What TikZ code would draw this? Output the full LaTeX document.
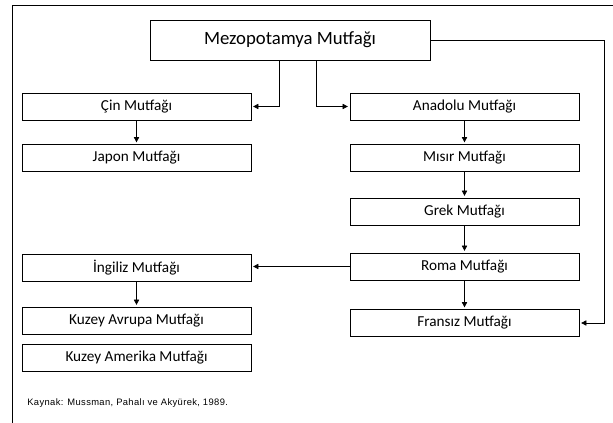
\documentclass[tikz,border=0pt]{standalone}
\usepackage{fontspec}
\setmainfont{Carlito}
\newfontfamily\srcfont[LetterSpace=4]{Liberation Sans}
\usetikzlibrary{arrows.meta,calc}

\tikzset{
  mutfak/.style={draw, minimum width=68.7mm, minimum height=8.1mm, inner sep=0pt,
    font=\fontsize{13}{15}\selectfont},
  ok/.style={->, shorten >=1.5pt},
  >={Triangle[length=4.5pt,width=4.5pt]}
}

\begin{document}
\begin{tikzpicture}[x=0.3mm, y=-0.3mm, line width=0.6pt]
  \useasboundingbox (0,0) rectangle (613,423);
  % frame
  \draw (613,5) -- (12,5) -- (12,423);
  \node [draw, minimum width=84mm, minimum height=12mm, inner sep=0pt,
    font=\fontsize{16}{18}\selectfont] (mezo) at (290,40) {Mezopotamya Mutfağı};
  % left column
  \foreach \name/\y/\text in {cin/106.5/Çin, japon/158/Japon, ingiliz/267.5/İngiliz,
    kavrupa/320.5/Kuzey Avrupa, kamerika/357.5/Kuzey Amerika}
    \node [mutfak] (\name) at (136.5,\y) {\text\ Mutfağı};
  % right column
  \foreach \name/\y/\text in {anadolu/106.5/Anadolu, misir/158/Mısır, grek/211.5/Grek,
    roma/266.5/Roma, fransiz/323/Fransız}
    \node [mutfak] (\name) at (464.5,\y) {\text\ Mutfağı};
  % edges:
  \draw [ok] ($(mezo.south)+(-11,0)$) |- (cin.east);
  \draw [ok] ($(mezo.south)+(26,0)$) |- (anadolu.west);
  \draw [ok] (mezo.east) -- ++(174,0) |- (fransiz.east);
  \draw [ok] (roma.west) -- (roma.west -| ingiliz.east);
  \foreach \a/\b in {cin/japon, ingiliz/kavrupa, anadolu/misir, misir/grek,
    grek/roma, roma/fransiz}
    \draw [ok] (\a) -- (\b);
  \node [anchor=west, inner sep=0pt, font=\srcfont\fontsize{8}{9}\selectfont] (kaynak)
    at (27,403) {Kaynak: Mussman, Pahalı ve Akyürek, 1989.};
\end{tikzpicture}
\end{document}
